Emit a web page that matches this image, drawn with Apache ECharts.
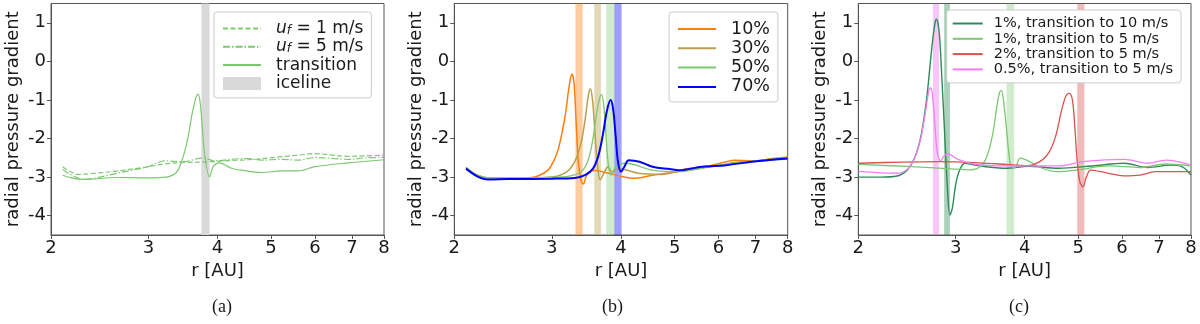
<!DOCTYPE html>
<html>
<head>
<meta charset="UTF-8">
<title>radial pressure gradient</title>
<script src="https://cdn.jsdelivr.net/npm/echarts@6/dist/echarts.min.js"></script>
<style>
  body { margin: 0; background: #fff; }
  #main { width: 1200px; height: 324px; }
</style>
</head>
<body>
<div id="main"></div>
<script>
// axis ticks
const xTicks = [2, 3, 4, 5, 6, 7, 8];
const yTicks = [-4, -3, -2, -1, 0, 1];

// panel (a): [r, gradient]
const aUf1 = [[2.1,-2.73],[2.17,-2.86],[2.24,-2.93],[2.4,-2.9],[2.6,-2.85],[2.8,-2.79],[3.0,-2.73],[3.2,-2.66],[3.5,-2.62],[3.89,-2.6],[4.2,-2.57],[4.55,-2.55],[5.23,-2.47],[5.7,-2.42],[6.0,-2.39],[6.45,-2.43],[6.9,-2.46],[7.4,-2.45],[8.0,-2.43]];
const aUf5 = [[2.1,-2.8],[2.18,-2.95],[2.29,-3.06],[2.45,-3.0],[2.63,-2.9],[2.8,-2.82],[3.0,-2.73],[3.1,-2.64],[3.2,-2.58],[3.47,-2.6],[3.77,-2.5],[3.95,-2.58],[4.3,-2.53],[4.55,-2.52],[4.8,-2.56],[5.23,-2.54],[5.6,-2.56],[6.0,-2.49],[6.5,-2.52],[6.9,-2.54],[7.4,-2.5],[8.0,-2.49]];
const aTrans = [[2.1,-2.95],[2.18,-3.02],[2.29,-3.06],[2.63,-3.01],[3.0,-3.02],[3.23,-3.0],[3.37,-2.88],[3.47,-2.45],[3.54,-1.95],[3.6,-1.35],[3.66,-0.92],[3.69,-0.85],[3.72,-1.05],[3.75,-1.6],[3.79,-2.39],[3.87,-2.99],[3.93,-2.73],[4.03,-2.63],[4.24,-2.77],[4.42,-2.82],[4.8,-2.88],[5.23,-2.84],[5.6,-2.84],[6.0,-2.73],[6.9,-2.63],[8.0,-2.55]];
const aIceline = [3.74, 3.87];

// panel (b)
const bP10 = [[2.1,-2.75],[2.2,-2.95],[2.3,-3.02],[2.5,-3.03],[2.78,-3.0],[2.9,-2.9],[2.98,-2.75],[3.07,-2.35],[3.13,-1.85],[3.18,-1.3],[3.22,-0.7],[3.26,-0.33],[3.29,-0.55],[3.32,-1.6],[3.35,-2.6],[3.39,-3.1],[3.42,-3.18],[3.46,-2.98],[3.52,-2.85],[3.6,-2.83],[3.8,-2.9],[4.0,-2.98],[4.25,-3.03],[4.56,-2.95],[5.04,-2.86],[5.25,-2.78],[5.68,-2.73],[6.2,-2.6],[6.4,-2.56],[6.9,-2.58],[7.5,-2.52],[8.0,-2.48]];
const bP30 = [[2.1,-2.75],[2.2,-2.95],[2.3,-3.02],[2.5,-3.03],[3.02,-2.99],[3.2,-2.85],[3.3,-2.6],[3.39,-2.1],[3.45,-1.45],[3.49,-0.9],[3.52,-0.71],[3.55,-0.95],[3.58,-1.6],[3.62,-2.56],[3.67,-3.07],[3.73,-2.88],[3.79,-2.73],[3.86,-2.88],[3.95,-2.78],[4.1,-2.82],[4.3,-2.9],[4.7,-2.93],[5.04,-2.86],[5.5,-2.78],[6.0,-2.7],[6.4,-2.62],[7.0,-2.58],[7.5,-2.53],[8.0,-2.5]];
const bP50 = [[2.1,-2.75],[2.2,-2.95],[2.3,-3.02],[2.5,-3.03],[3.1,-3.0],[3.26,-2.96],[3.39,-2.86],[3.48,-2.6],[3.55,-2.1],[3.61,-1.4],[3.66,-0.95],[3.69,-0.86],[3.72,-1.1],[3.75,-1.7],[3.79,-2.6],[3.84,-2.95],[3.92,-2.72],[4.09,-2.64],[4.56,-2.82],[5.04,-2.86],[6.02,-2.69],[6.9,-2.6],[8.0,-2.53]];
const bP70 = [[2.1,-2.78],[2.2,-2.98],[2.3,-3.06],[2.5,-3.05],[3.0,-3.04],[3.3,-3.02],[3.45,-2.94],[3.56,-2.78],[3.64,-2.45],[3.71,-1.9],[3.77,-1.3],[3.83,-1.0],[3.87,-1.22],[3.91,-1.9],[3.95,-2.6],[4.0,-2.86],[4.06,-2.72],[4.13,-2.56],[4.32,-2.6],[4.56,-2.73],[4.9,-2.79],[5.09,-2.82],[5.6,-2.73],[6.2,-2.69],[6.9,-2.6],[8.0,-2.52]];
const bBands = [[3.31, 3.41], [3.58, 3.68], [3.76, 3.89], [3.89, 4.01]];

// panel (c)
const cDark = [[2.0,-3.0],[2.2,-3.0],[2.35,-2.97],[2.45,-2.82],[2.53,-2.5],[2.6,-1.9],[2.66,-0.95],[2.71,0.2],[2.75,0.95],[2.77,1.09],[2.8,0.8],[2.83,-0.3],[2.86,-1.6],[2.9,-3.3],[2.93,-3.98],[2.96,-3.8],[3.0,-3.2],[3.05,-2.82],[3.12,-2.64],[3.23,-2.68],[3.4,-2.73],[3.71,-2.77],[4.06,-2.72],[4.6,-2.77],[5.3,-2.71],[6.06,-2.64],[6.68,-2.75],[7.33,-2.69],[7.7,-2.73],[8.0,-2.95]];
const cLight = [[2.0,-2.67],[2.5,-2.73],[2.9,-2.78],[3.2,-2.81],[3.33,-2.72],[3.42,-2.45],[3.5,-1.9],[3.56,-1.2],[3.6,-0.82],[3.63,-0.75],[3.66,-0.98],[3.7,-1.6],[3.74,-2.3],[3.78,-2.72],[3.84,-2.75],[3.93,-2.51],[4.06,-2.58],[4.3,-2.77],[4.6,-2.86],[4.94,-2.82],[5.7,-2.71],[6.46,-2.75],[7.2,-2.66],[8.0,-2.71]];
const cRed = [[2.0,-2.64],[2.4,-2.61],[2.8,-2.6],[3.3,-2.63],[3.8,-2.68],[4.06,-2.7],[4.3,-2.56],[4.45,-2.3],[4.56,-1.9],[4.66,-1.3],[4.75,-0.9],[4.82,-0.83],[4.88,-1.0],[4.93,-1.7],[4.98,-2.6],[5.04,-3.15],[5.1,-3.25],[5.17,-3.0],[5.27,-2.82],[5.5,-2.86],[5.8,-2.93],[6.06,-2.97],[6.46,-2.95],[6.9,-2.86],[8.0,-2.86]];
const cPink = [[2.0,-2.85],[2.36,-2.9],[2.46,-2.78],[2.53,-2.5],[2.59,-2.05],[2.64,-1.4],[2.68,-0.8],[2.7,-0.69],[2.72,-0.8],[2.75,-1.6],[2.78,-2.35],[2.82,-2.58],[2.86,-2.45],[2.91,-2.4],[3.03,-2.54],[3.23,-2.66],[3.47,-2.7],[4.06,-2.71],[4.6,-2.71],[5.1,-2.6],[6.06,-2.54],[6.7,-2.64],[7.2,-2.56],[8.0,-2.69]];
const cBands = [[2.86, 2.93], [3.71, 3.83], [4.98, 5.13], [2.73, 2.80]];

const FONT = 'DejaVu Sans';
const AX = '#555';
const TXT = '#1a1a1a';
const gridLefts = [51, 454.3, 858.3];
const gridWidths = [333, 333.4, 332.7];

function makeX(i) {
  return {
    type: 'log', gridIndex: i, logBase: 2, min: 2, max: 8,
    name: 'r [AU]', nameLocation: 'middle', nameGap: 25,
    nameTextStyle: { fontFamily: FONT, fontSize: 18, color: TXT },
    axisLine: { show: true, onZero: false, lineStyle: { color: AX, width: 1 } },
    axisTick: { show: true, length: 4, customValues: xTicks, lineStyle: { color: AX } },
    axisLabel: { customValues: xTicks, fontFamily: FONT, fontSize: 18, color: TXT, margin: 4,
      formatter: v => String(Math.round(v)) },
    splitLine: { show: false }, minorTick: { show: false }
  };
}
function makeY(i) {
  return {
    type: 'value', gridIndex: i, min: -4.5, max: 1.5,
    name: 'radial pressure gradient', nameLocation: 'middle', nameGap: 29,
    nameTextStyle: { fontFamily: FONT, fontSize: 18, color: TXT },
    axisLine: { show: true, onZero: false, lineStyle: { color: AX, width: 1 } },
    axisTick: { show: true, length: 4, customValues: yTicks, lineStyle: { color: AX } },
    axisLabel: { customValues: yTicks, fontFamily: FONT, fontSize: 18, color: TXT, margin: 5,
      formatter: v => String(v) },
    splitLine: { show: false }
  };
}
function band(range, color) {
  return { silent: true, z: 1, itemStyle: { color: color, borderWidth: 0 },
    label: { show: false }, data: [[{ xAxis: range[0] }, { xAxis: range[1] }]] };
}
function line(name, i, data, color, width, type, area) {
  const s = {
    name: name, type: 'line', xAxisIndex: i, yAxisIndex: i, data: data,
    symbol: 'none', smooth: 0.35, z: 3,
    color: color,
    lineStyle: { color: color, width: width, type: type || 'solid' },
    emphasis: { disabled: true }
  };
  if (area) s.markArea = area;
  return s;
}
// legend entry drawn as a plain line sample (symbol hidden)
function lineItem(name) {
  return { name: name, itemStyle: { opacity: 0 } };
}

const series = [
  line('u_f = 1 m/s', 0, aUf1, '#7cc870', 1.2, [5, 2.5]),
  line('u_f = 5 m/s', 0, aUf5, '#7cc870', 1.2, [7, 2, 1.5, 2]),
  line('transition', 0, aTrans, '#7cc870', 1.2),
  line('iceline', 0, [], '#d9d9d9', 1, 'solid', band(aIceline, '#d9d9d9')),

  line('10%', 1, bP10, '#ff7f0e', 1.5, 'solid', band(bBands[0], 'rgba(255,127,14,0.4)')),
  line('30%', 1, bP30, '#b8a04c', 1.5, 'solid', band(bBands[1], 'rgba(184,160,76,0.4)')),
  line('50%', 1, bP50, '#7cc870', 1.3, 'solid', band(bBands[2], 'rgba(124,200,112,0.35)')),
  line('70%', 1, bP70, '#0000ff', 2, 'solid', band(bBands[3], 'rgba(0,0,255,0.38)')),

  line('1%, transition to 10 m/s', 2, cDark, '#2e8b57', 1.4, 'solid', band(cBands[0], 'rgba(46,139,87,0.4)')),
  line('1%, transition to 5 m/s', 2, cLight, '#7cc870', 1.3, 'solid', band(cBands[1], 'rgba(124,200,112,0.35)')),
  line('2%, transition to 5 m/s', 2, cRed, '#d9534f', 1.3, 'solid', band(cBands[2], 'rgba(214,60,60,0.35)')),
  line('0.5%, transition to 5 m/s', 2, cPink, '#f27ef2', 1.3, 'solid', band(cBands[3], 'rgba(238,130,238,0.45)'))
];

const legendBase = {
  orient: 'vertical', selectedMode: false,
  backgroundColor: '#fff', borderColor: '#ccc', borderWidth: 1, borderRadius: 3
};

const option = {
  animation: false,
  grid: [0, 1, 2].map(i => ({
    left: gridLefts[i], top: 3.5, width: gridWidths[i], height: 231.5,
    show: true, borderColor: AX, borderWidth: 1, backgroundColor: 'transparent'
  })),
  xAxis: [0, 1, 2].map(makeX),
  yAxis: [0, 1, 2].map(makeY),
  legend: [
    Object.assign({}, legendBase, {
      left: 214, top: 12, padding: [8, 8, 6, 8],
      itemWidth: 38, itemHeight: 13, itemGap: 1.3,
      data: [lineItem('u_f = 1 m/s'), lineItem('u_f = 5 m/s'), lineItem('transition'),
        { name: 'iceline', icon: 'rect', itemStyle: { color: '#d9d9d9', opacity: 1 } }],
      formatter: n => n.startsWith('u_f') ? '{i|u}{s|f}{n|' + n.slice(3) + '}' : n,
      textStyle: { fontFamily: FONT, fontSize: 17, lineHeight: 17, color: TXT, padding: [0, 0, 0, 10],
        rich: {
          i: { fontFamily: FONT, fontSize: 17, fontStyle: 'italic', color: TXT, lineHeight: 17 },
          s: { fontFamily: FONT, fontSize: 12, fontStyle: 'italic', color: TXT, lineHeight: 17, verticalAlign: 'bottom' },
          n: { fontFamily: FONT, fontSize: 17, color: TXT, lineHeight: 17 }
        } }
    }),
    Object.assign({}, legendBase, {
      left: 669, top: 12, padding: [8, 8, 6, 8],
      itemWidth: 38, itemHeight: 13, itemGap: 1.3,
      data: ['10%', '30%', '50%', '70%'].map(lineItem),
      textStyle: { fontFamily: FONT, fontSize: 17.5, lineHeight: 17, color: TXT, padding: [0, 0, 0, 10] }
    }),
    Object.assign({}, legendBase, {
      left: 946.7, top: 10, padding: [6, 8, 6, 5],
      itemWidth: 30, itemHeight: 10, itemGap: 0.3,
      data: ['1%, transition to 10 m/s', '1%, transition to 5 m/s', '2%, transition to 5 m/s', '0.5%, transition to 5 m/s'].map(lineItem),
      textStyle: { fontFamily: FONT, fontSize: 14.5, lineHeight: 14, color: TXT, padding: [0, 0, 0, 6] }
    })
  ],
  title: [['(a)', 212], ['(b)', 602], ['(c)', 1009]].map(t => ({
    text: t[0], left: t[1], top: 298, padding: 0,
    textStyle: { fontFamily: 'Liberation Serif', fontSize: 18, fontWeight: 'normal', color: TXT }
  })),
  series: series
};

const chart = echarts.init(document.getElementById('main'));
chart.setOption(option);
</script>
</body>
</html>
